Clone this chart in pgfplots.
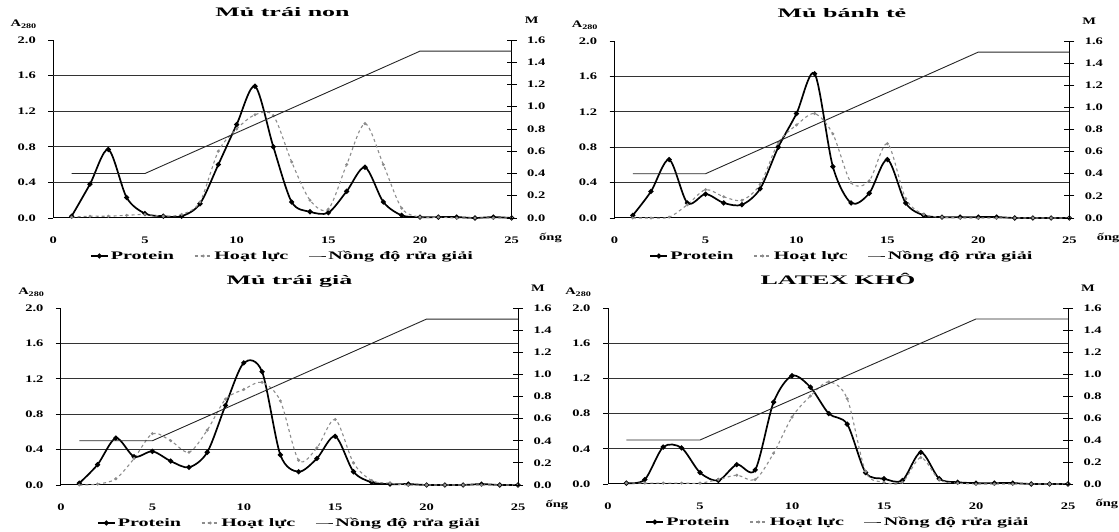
\documentclass[border=0pt]{standalone}
\usepackage{fontspec}
\setmainfont{Liberation Serif}
\newfontfamily\tickf[FakeStretch=1.45]{Liberation Serif}
\newfontfamily\legf[FakeStretch=1.75]{Liberation Serif}
\newfontfamily\titf[FakeStretch=2.0]{Liberation Serif}
\usepackage{pgfplots}
\usepackage{pgfplotstable}
\pgfplotsset{compat=1.18}

% elution gradient (M), same for all four columns
\pgfplotstableread{
x M
1 0.4
5 0.4
20 1.5
25 1.5
}\grad

% x = tube, p = protein (A280), a = activity
\pgfplotstableread{
x p a
1 0.02 0.01
2 0.38 0.02
3 0.77 0.02
4 0.23 0.03
5 0.05 0.04
6 0.02 0.02
7 0.02 0.04
8 0.16 0.18
9 0.60 0.75
10 1.05 1.00
11 1.48 1.16
12 0.80 1.15
13 0.18 0.63
14 0.07 0.20
15 0.06 0.10
16 0.30 0.60
17 0.57 1.06
18 0.18 0.60
19 0.03 0.11
20 0.01 0.01
21 0.01 0.01
22 0.01 0.00
23 0.00 0.00
24 0.01 0.00
25 0.00 0.00
}\tA

\pgfplotstableread{
x p a
1 0.03 0.00
2 0.30 0.00
3 0.66 0.01
4 0.17 0.15
5 0.27 0.32
6 0.17 0.24
7 0.15 0.20
8 0.33 0.38
9 0.80 0.85
10 1.18 1.05
11 1.63 1.18
12 0.58 0.95
13 0.17 0.40
14 0.28 0.42
15 0.66 0.84
16 0.17 0.22
17 0.03 0.04
18 0.01 0.01
19 0.01 0.00
20 0.01 0.00
21 0.01 0.00
22 0.00 0.00
23 0.00 0.00
24 0.00 0.00
25 0.00 0.00
}\tB

\pgfplotstableread{
x p a
1 0.02 0.00
2 0.23 0.01
3 0.53 0.07
4 0.32 0.30
5 0.38 0.58
6 0.27 0.50
7 0.20 0.37
8 0.37 0.62
9 0.90 0.97
10 1.38 1.08
11 1.28 1.16
12 0.34 0.95
13 0.15 0.28
14 0.30 0.42
15 0.55 0.74
16 0.15 0.25
17 0.03 0.05
18 0.01 0.02
19 0.01 0.00
20 0.00 0.00
21 0.00 0.00
22 0.00 0.00
23 0.01 0.00
24 0.00 0.00
25 0.00 0.00
}\tC

\pgfplotstableread{
x p a
1 0.01 0.01
2 0.05 0.01
3 0.42 0.01
4 0.41 0.01
5 0.13 0.01
6 0.04 0.05
7 0.22 0.10
8 0.16 0.05
9 0.93 0.35
10 1.23 0.76
11 1.10 1.00
12 0.80 1.16
13 0.68 0.97
14 0.13 0.14
15 0.06 0.02
16 0.04 0.02
17 0.36 0.30
18 0.06 0.05
19 0.02 0.01
20 0.01 0.00
21 0.01 0.00
22 0.01 0.00
23 0.00 0.00
24 0.00 0.00
25 0.00 0.00
}\tD

\pgfplotsset{
  prot/.style={black, line width=1.7pt, smooth, tension=0.5, mark=*, mark size=1.6pt},
  act/.style={black!45, line width=1.1pt, dashed, smooth, tension=0.5, mark=*, mark size=0.9pt, mark options={solid}},
  conc/.style={black!85, line width=0.9pt},
  common/.style={anchor=south west, scale only axis, xmin=0, xmax=25, clip=false,
    axis line style={line width=1pt},
    tick style={black, line width=0.8pt},
    ticklabel style={font=\tickf\bfseries\fontsize{10}{12}\selectfont},
    /pgf/number format/assume math mode=true},
  panelL/.style={common, ymin=0, ymax=2,
    axis x line*=bottom, axis y line*=left,
    xtick={0,5,10,15,20,25}, xtick style={draw=none},
    xticklabel style={yshift=-10pt},
    ytick={0,0.4,0.8,1.2,1.6,2.0},
    yticklabel style={xshift=-9pt, /pgf/number format/.cd, fixed, fixed zerofill, precision=1},
    tick align=outside, major tick length=5pt,
    extra y ticks={0.4,0.8,1.2,1.6}, extra y tick labels={},
    extra y tick style={grid=major},
    major grid style={black!80, line width=0.8pt},
    title style={font=\titf\bfseries\fontsize{13}{15}\selectfont, at={(rel axis cs:0.5,1)}, anchor=base, yshift=17pt},
    every axis y label/.style={at={(rel axis cs:0,1)}, anchor=east, xshift=-13pt, yshift=16pt,
      font=\tickf\bfseries\fontsize{10}{12}\selectfont},
    ylabel={A\textsubscript{280}},
    every axis x label/.style={at={(rel axis cs:1,0)}, anchor=west, xshift=24pt, yshift=-20pt,
      font=\tickf\bfseries\fontsize{10}{12}\selectfont},
    xlabel={ống}},
  panelR/.style={common, ymin=0, ymax=1.6,
    axis x line=none, axis y line*=right,
    ytick={0,0.2,0.4,0.6,0.8,1.0,1.2,1.4,1.6},
    yticklabel style={xshift=7pt, /pgf/number format/.cd, fixed, fixed zerofill, precision=1},
    tick align=center, major tick length=10pt,
    every axis y label/.style={at={(rel axis cs:1,1)}, anchor=center, xshift=20pt, yshift=20pt,
      font=\tickf\bfseries\fontsize{10}{12}\selectfont},
    ylabel={M},
    legend columns=3,
    legend style={at={(rel axis cs:0.5,0)}, anchor=center, yshift=-38pt, draw=none, fill=none,
      font=\legf\bfseries\fontsize{11.5}{13}\selectfont,
      /tikz/every even column/.append style={column sep=18pt}}},
}

\begin{document}
\begin{tikzpicture}
\useasboundingbox (0,0) rectangle (1119pt,532pt);

% Mủ trái non
\begin{axis}[panelL, at={(53.3pt,314pt)}, width=458.4pt, height=178pt, title={Mủ trái non}]
  \addplot[prot] table[x=x, y=p] {\tA};
  \addplot[act] table[x=x, y=a] {\tA};
\end{axis}
\begin{axis}[panelR, at={(53.3pt,314pt)}, width=458.4pt, height=178pt]
  \addlegendimage{prot}\addlegendentry{Protein}
  \addlegendimage{act}\addlegendentry{Hoạt lực}
  \addplot[conc] table[x=x, y=M] {\grad};
  \addlegendentry{Nồng độ rửa giải}
\end{axis}

% Mủ bánh tẻ
\begin{axis}[panelL, at={(614.6pt,314pt)}, width=454.7pt, height=177pt, title={Mủ bánh tẻ}]
  \addplot[prot] table[x=x, y=p] {\tB};
  \addplot[act] table[x=x, y=a] {\tB};
\end{axis}
\begin{axis}[panelR, at={(614.6pt,314pt)}, width=454.7pt, height=177pt]
  \addlegendimage{prot}\addlegendentry{Protein}
  \addlegendimage{act}\addlegendentry{Hoạt lực}
  \addplot[conc] table[x=x, y=M] {\grad};
  \addlegendentry{Nồng độ rửa giải}
\end{axis}

% Mủ trái già
\begin{axis}[panelL, at={(61pt,47pt)}, width=457pt, height=177pt, title={Mủ trái già}]
  \addplot[prot] table[x=x, y=p] {\tC};
  \addplot[act] table[x=x, y=a] {\tC};
\end{axis}
\begin{axis}[panelR, at={(61pt,47pt)}, width=457pt, height=177pt]
  \addlegendimage{prot}\addlegendentry{Protein}
  \addlegendimage{act}\addlegendentry{Hoạt lực}
  \addplot[conc] table[x=x, y=M] {\grad};
  \addlegendentry{Nồng độ rửa giải}
\end{axis}

% LATEX KHÔ
\begin{axis}[panelL, at={(608pt,48pt)}, width=460pt, height=176pt, title={LATEX KHÔ}]
  \addplot[prot] table[x=x, y=p] {\tD};
  \addplot[act] table[x=x, y=a] {\tD};
\end{axis}
\begin{axis}[panelR, at={(608pt,48pt)}, width=460pt, height=176pt]
  \addlegendimage{prot}\addlegendentry{Protein}
  \addlegendimage{act}\addlegendentry{Hoạt lực}
  \addplot[conc] table[x=x, y=M] {\grad};
  \addlegendentry{Nồng độ rửa giải}
\end{axis}
\end{tikzpicture}
\end{document}
